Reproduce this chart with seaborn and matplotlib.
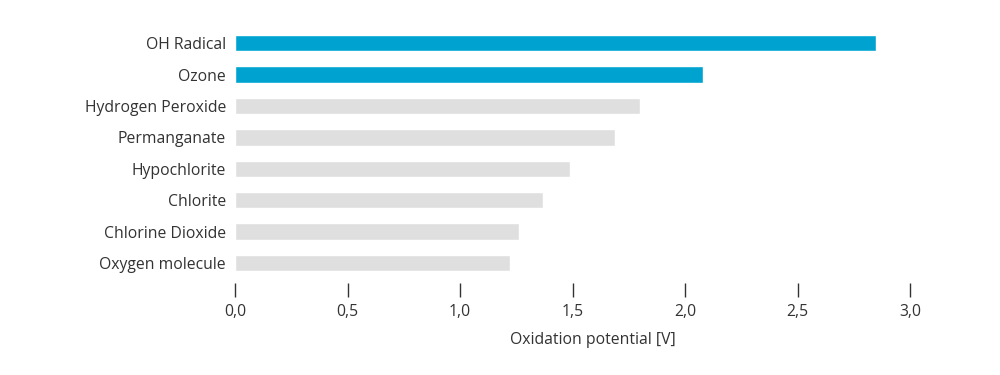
import matplotlib
matplotlib.use('Agg')
import matplotlib.pyplot as plt
import seaborn as sns
import pandas as pd

# Data
oxidants = ['OH Radical', 'Ozone', 'Hydrogen Peroxide', 'Permanganate',
            'Hypochlorite', 'Chlorite', 'Chlorine Dioxide', 'Oxygen molecule']
potential = [2.85, 2.08, 1.80, 1.69, 1.49, 1.37, 1.26, 1.22]
highlight = ['OH Radical', 'Ozone']

blue = '#00A3D0'
grey = '#DFDFDF'
text_col = '#333333'

df = pd.DataFrame({'Oxidant': oxidants, 'Potential': potential})
colors = {o: (blue if o in highlight else grey) for o in oxidants}

sns.set_style('white')
plt.rcParams['font.family'] = ['Open Sans', 'DejaVu Sans']

fig = plt.figure(figsize=(10, 3.75), dpi=100)
ax = fig.add_axes([0.235, 0.245, 0.675, 0.68])

sns.barplot(data=df, x='Potential', y='Oxidant', hue='Oxidant', palette=colors,
            order=oxidants, orient='h', width=0.52, saturation=1, legend=False, ax=ax)

ax.set_xlim(0, 3.0)
ax.set_ylim(7.64, -0.48)
ax.set_xticks([0, 0.5, 1.0, 1.5, 2.0, 2.5, 3.0])
ax.set_xticklabels(['0,0', '0,5', '1,0', '1,5', '2,0', '2,5', '3,0'])
ax.set_xlabel('Oxidation potential [V]', fontsize=11.3, color=text_col)
ax.xaxis.set_label_coords(0.53, -0.19)
ax.set_ylabel('')

for s in ax.spines.values():
    s.set_visible(False)
ax.tick_params(axis='x', bottom=True, length=10, width=1, color=text_col,
               labelsize=11.3, labelcolor=text_col, pad=5)
ax.tick_params(axis='y', left=False, labelsize=11.3, labelcolor=text_col, pad=3)
ax.grid(False)

fig.savefig('out.png', dpi=100)
